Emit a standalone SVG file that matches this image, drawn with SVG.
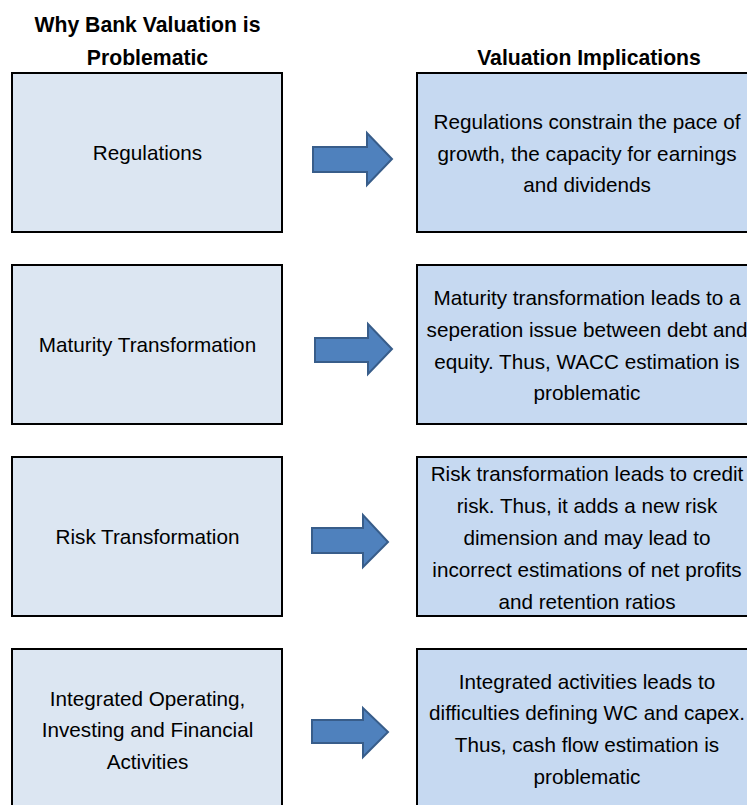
<svg xmlns="http://www.w3.org/2000/svg" width="747" height="805" viewBox="0 0 747 805">
<style>
  .hdr { font-family: "Liberation Sans", Arial, sans-serif; font-weight: bold; font-size: 21.2px; fill: #000; text-anchor: middle; }
  .txt { font-family: "Liberation Sans", Arial, sans-serif; font-size: 20.7px; fill: #000; text-anchor: middle; }
  .lbox { fill: #DCE6F2; stroke: #000; stroke-width: 2; }
  .rbox { fill: #C6D9F1; stroke: #000; stroke-width: 2; }
  .arrow { fill: #4F81BD; stroke: #385D8A; stroke-width: 2; stroke-linejoin: miter; }
</style>
<rect x="0" y="0" width="747" height="805" fill="#fff"/>
<g id="headers">
  <text class="hdr" x="147.5" y="32">Why Bank Valuation is</text>
  <text class="hdr" x="147.5" y="65">Problematic</text>
  <text class="hdr" x="589" y="65">Valuation Implications</text>
</g>
<g id="cause-regulations">
  <rect class="lbox" x="12" y="73" width="270" height="159"/>
  <text class="txt" x="147.5" y="160">Regulations</text>
</g>
<g id="cause-maturity">
  <rect class="lbox" x="12" y="265" width="270" height="159"/>
  <text class="txt" x="147.5" y="352">Maturity Transformation</text>
</g>
<g id="cause-risk">
  <rect class="lbox" x="12" y="457" width="270" height="159"/>
  <text class="txt" x="147.5" y="544">Risk Transformation</text>
</g>
<g id="cause-integrated">
  <rect class="lbox" x="12" y="649" width="270" height="170"/>
  <text class="txt" x="147.5" y="706">Integrated Operating,</text>
  <text class="txt" x="147.5" y="737">Investing and Financial</text>
  <text class="txt" x="147.5" y="769">Activities</text>
</g>
<g id="impl-regulations">
  <rect class="rbox" x="417" y="73" width="345" height="159"/>
  <text class="txt" x="587" y="129">Regulations constrain the pace of</text>
  <text class="txt" x="587" y="161">growth, the capacity for earnings</text>
  <text class="txt" x="587" y="192">and dividends</text>
</g>
<g id="impl-maturity">
  <rect class="rbox" x="417" y="265" width="345" height="159"/>
  <text class="txt" x="587" y="305">Maturity transformation leads to a</text>
  <text class="txt" x="587" y="337">seperation issue between debt and</text>
  <text class="txt" x="587" y="369">equity. Thus, WACC estimation is</text>
  <text class="txt" x="587" y="400">problematic</text>
</g>
<g id="impl-risk">
  <rect class="rbox" x="417" y="457" width="345" height="159"/>
  <text class="txt" x="587" y="481">Risk transformation leads to credit</text>
  <text class="txt" x="587" y="513">risk. Thus, it adds a new risk</text>
  <text class="txt" x="587" y="545">dimension and may lead to</text>
  <text class="txt" x="587" y="577">incorrect estimations of net profits</text>
  <text class="txt" x="587" y="609">and retention ratios</text>
</g>
<g id="impl-integrated">
  <rect class="rbox" x="417" y="649" width="345" height="170"/>
  <text class="txt" x="587" y="689">Integrated activities leads to</text>
  <text class="txt" x="587" y="720">difficulties defining WC and capex.</text>
  <text class="txt" x="587" y="752">Thus, cash flow estimation is</text>
  <text class="txt" x="587" y="784">problematic</text>
</g>
<g id="connectors">
  <path class="arrow" d="M313,147 L367,147 L367,133 L392,159 L367,185 L367,172 L313,172 Z"/>
  <path class="arrow" d="M315,338 L368,338 L368,324 L392,349 L368,374 L368,362 L315,362 Z"/>
  <path class="arrow" d="M312,528 L363,528 L363,515 L388,542 L363,567 L363,553 L312,553 Z"/>
  <path class="arrow" d="M312,720 L363,720 L363,708 L388,732 L363,757 L363,743 L312,743 Z"/>
</g>
</svg>
